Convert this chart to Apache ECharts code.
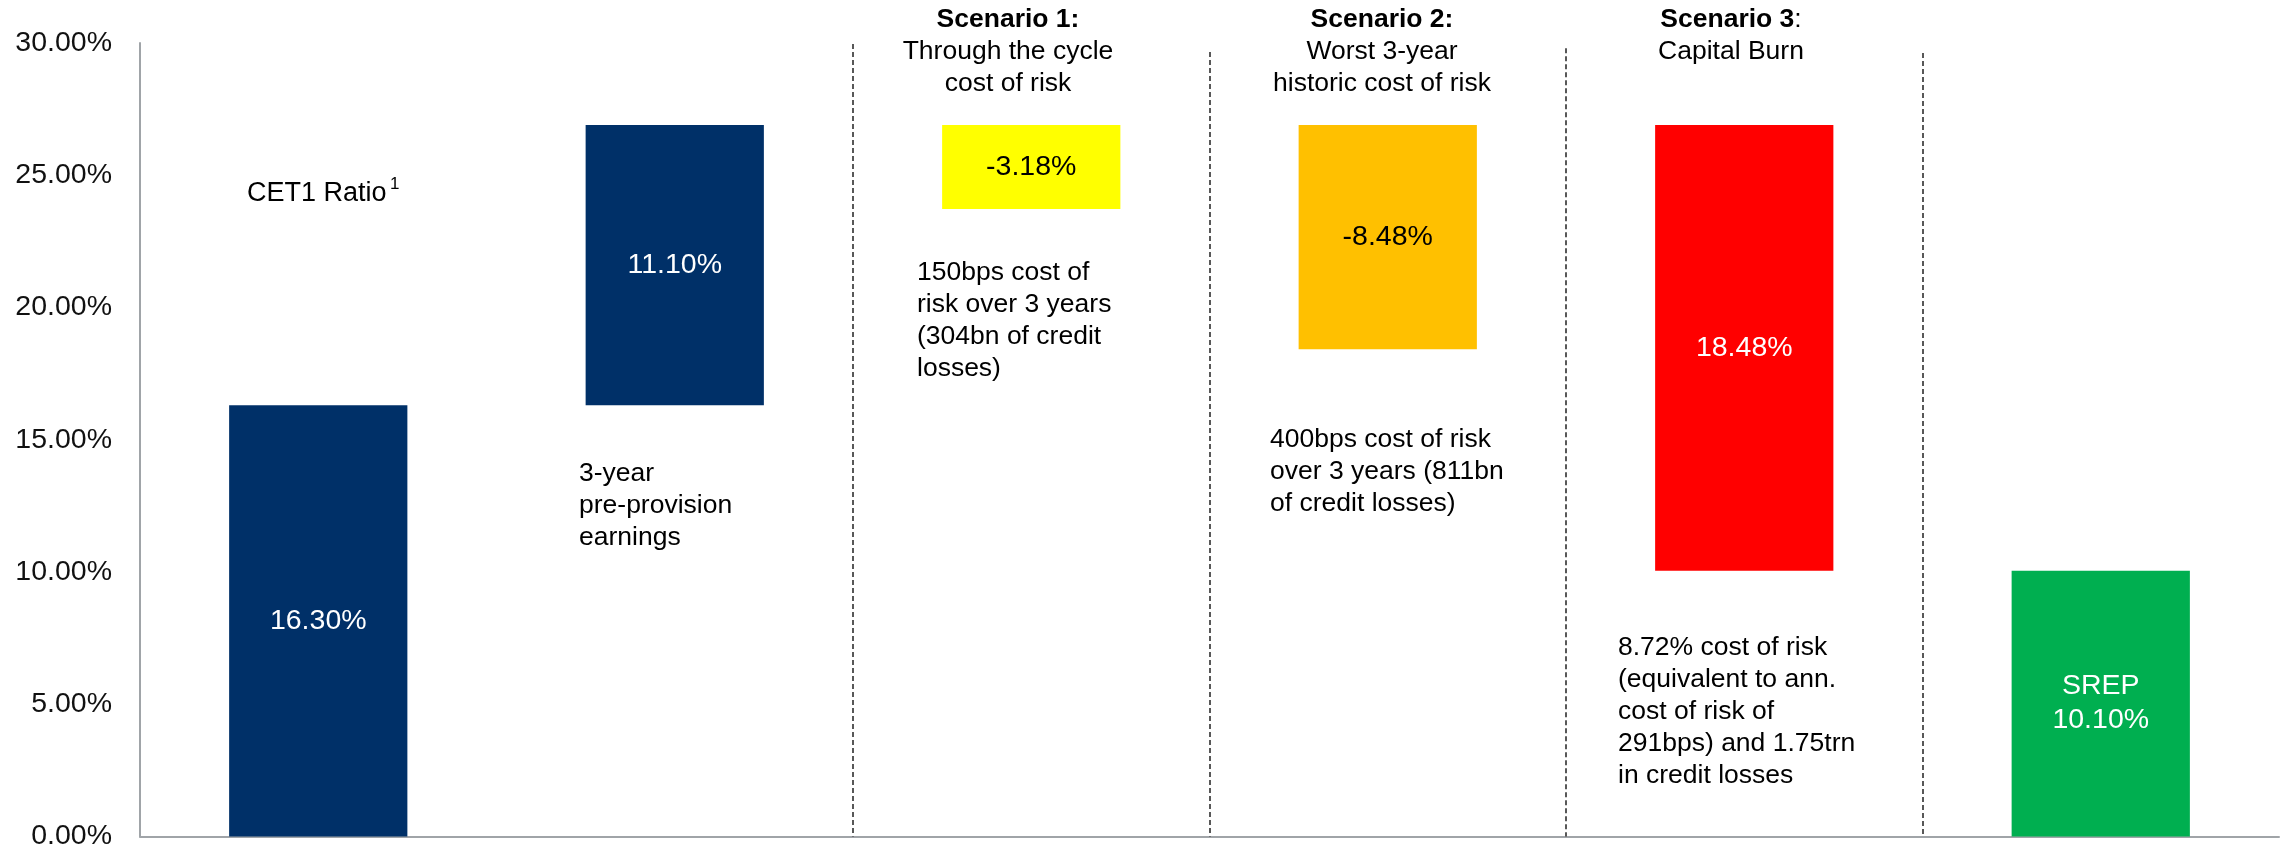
<!DOCTYPE html>
<html>
<head>
<meta charset="utf-8">
<script src="https://cdn.jsdelivr.net/npm/echarts@6/dist/echarts.min.js"></script>
<style>
  html, body { margin: 0; padding: 0; background: #fff; }
  #chart { width: 2282px; height: 851px; }
</style>
</head>
<body>
<div id="chart"></div>
<script>
// capital waterfall: CET1 -> scenarios -> SREP
const categories = ['CET1 Ratio', 'Pre-provision earnings', 'Scenario 1', 'Scenario 2', 'Scenario 3', 'SREP'];
const barBase = [0, 16.30, 23.72, 18.42, 10.05, 0];
const barValue = [16.30, 10.60, 3.18, 8.48, 16.85, 10.05];
const barLabels = ['16.30%', '11.10%', '-3.18%', '-8.48%', '18.48%', 'SREP\n10.10%'];
const barColors = ['#003068', '#003068', '#FFFF00', '#FFC000', '#FF0000', '#00AF50'];
const labelColors = ['#fff', '#fff', '#000', '#000', '#fff', '#fff'];

// dashed separators between the scenario columns (category boundaries)
const dividerX = [2, 3, 4, 5];
const dividerTop = [29.96, 29.66, 29.8, 29.62];

const yTicks = { min: 0, max: 30, interval: 5 };

const FONT = "'Liberation Sans', Arial, sans-serif";

const chart = echarts.init(document.getElementById('chart'), null, { renderer: 'canvas' });

const textStyle = (text, x, y, align, extra) => ({
  type: 'text',
  x: x,
  y: y,
  silent: true,
  style: Object.assign({
    text: text,
    fill: '#000',
    font: '26.5px ' + FONT,
    textAlign: align,
    textVerticalAlign: 'top',
    lineHeight: 32
  }, extra || {})
});

const headerRich = {
  b: { fontFamily: FONT, fontSize: 26.5, fontWeight: 'bold', lineHeight: 32, fill: '#000', color: '#000' },
  n: { fontFamily: FONT, fontSize: 26.5, lineHeight: 32, fill: '#000', color: '#000' }
};

chart.setOption({
  animation: false,
  backgroundColor: '#fff',
  grid: { left: 140, right: 3, top: 43, bottom: 14, containLabel: false },
  xAxis: [
    {
      type: 'category',
      data: categories,
      axisLine: { show: true, lineStyle: { color: '#a0a4a8', width: 2 } },
      axisTick: { show: false },
      axisLabel: { show: false },
      splitLine: { show: false }
    },
    { type: 'value', min: 0, max: categories.length, show: false }
  ],
  yAxis: {
    type: 'value',
    min: yTicks.min,
    max: yTicks.max,
    interval: yTicks.interval,
    axisLine: { show: true, lineStyle: { color: '#a0a4a8', width: 2 } },
    axisTick: { show: false },
    splitLine: { show: false },
    axisLabel: {
      color: '#111',
      fontSize: 28.5,
      fontFamily: FONT,
      margin: 28,
      formatter: (v) => v.toFixed(2) + '%'
    }
  },
  series: [
    {
      name: 'base',
      type: 'bar',
      stack: 'wf',
      barWidth: '50%',
      itemStyle: { color: 'transparent' },
      emphasis: { disabled: true },
      data: barBase
    },
    {
      name: 'value',
      type: 'bar',
      stack: 'wf',
      barWidth: '50%',
      data: barValue.map((v, i) => ({
        value: v,
        itemStyle: { color: barColors[i] },
        label: { color: labelColors[i] }
      })),
      label: {
        show: true,
        position: 'inside',
        fontSize: 28.5,
        fontFamily: FONT,
        lineHeight: 34,
        formatter: (p) => barLabels[p.dataIndex]
      }
    },
    {
      name: 'dividers',
      type: 'line',
      xAxisIndex: 1,
      data: [],
      markLine: {
        silent: true,
        symbol: ['none', 'none'],
        label: { show: false },
        lineStyle: { color: '#222', type: [5, 3], width: 1.5 },
        data: dividerX.map((x, i) => [{ coord: [x, dividerTop[i]] }, { coord: [x, 0] }])
      }
    }
  ],
  graphic: [
    // column annotations
    textStyle('CET1 Ratio', 247, 178, 'left', { font: '27px ' + FONT }),
    textStyle('1', 390, 174, 'left', { font: '17px ' + FONT, lineHeight: 20 }),
    textStyle('3-year\npre-provision\nearnings', 579, 458, 'left'),
    textStyle('150bps cost of\nrisk over 3 years\n(304bn of credit\nlosses)', 917, 257, 'left'),
    textStyle('400bps cost of risk\nover 3 years (811bn\nof credit losses)', 1270, 424, 'left'),
    textStyle('8.72% cost of risk\n(equivalent to ann.\ncost of risk of\n291bps) and 1.75trn\nin credit losses', 1618, 632, 'left'),
    // scenario headers
    textStyle('{b|Scenario 1:}\n{n|Through the cycle}\n{n|cost of risk}', 1008, 4, 'center', { rich: headerRich }),
    textStyle('{b|Scenario 2:}\n{n|Worst 3-year}\n{n|historic cost of risk}', 1382, 4, 'center', { rich: headerRich }),
    textStyle('{b|Scenario 3}{n|:}\n{n|Capital Burn}', 1731, 4, 'center', { rich: headerRich })
  ]
});
</script>
</body>
</html>
